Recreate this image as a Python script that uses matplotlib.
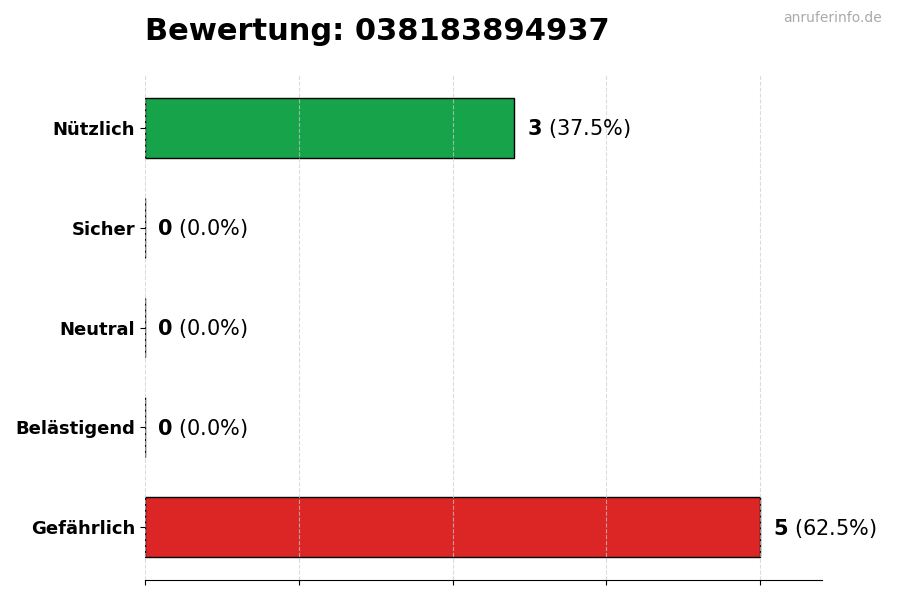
import matplotlib
matplotlib.use("Agg")
import matplotlib.pyplot as plt

categories = ["Nützlich", "Sicher", "Neutral", "Belästigend", "Gefährlich"]
counts = [3, 0, 0, 0, 5]
colors = ["#16a34a", "#9ca3af", "#6b7280", "#f59e0b", "#dc2626"]
title = "Bewertung: 038183894937"
watermark = "anruferinfo.de"
xticks = [0, 1.25, 2.5, 3.75, 5]

total = sum(counts)
fig = plt.figure(figsize=(9, 6), dpi=100)
ax = fig.add_axes([0.161, 0.0333, 0.752, 0.8417])

ypos = list(range(len(categories)))[::-1]
ax.barh(ypos, counts, height=0.6, color=colors, edgecolor="black", linewidth=1, zorder=2)
ax.set_yticks(ypos)
ax.set_yticklabels(categories, fontsize=13, fontweight="bold")
ax.set_xlim(0, 5.5)
ax.set_xticks(xticks)
ax.set_xticklabels([])
ax.grid(axis="x", linestyle="--", color="#cccccc", linewidth=0.8, alpha=0.7, zorder=3)
ax.set_axisbelow(False)
for s in ["top", "right", "left"]:
    ax.spines[s].set_visible(False)

for y, c in zip(ypos, counts):
    pct = 100.0 * c / total
    ax.annotate(r"$\mathbf{%d}$ (%.1f%%)" % (c, pct), xy=(c, y), xytext=(9, -0.7),
                textcoords="offset points", va="center", ha="left", fontsize=15)

fig.text(0.161, 0.933, title, fontsize=22, fontweight="bold", ha="left", va="baseline")
fig.text(0.98, 0.963, watermark, fontsize=10, color="#aaaaaa", ha="right", va="baseline")

fig.savefig("out.png", dpi=100)
